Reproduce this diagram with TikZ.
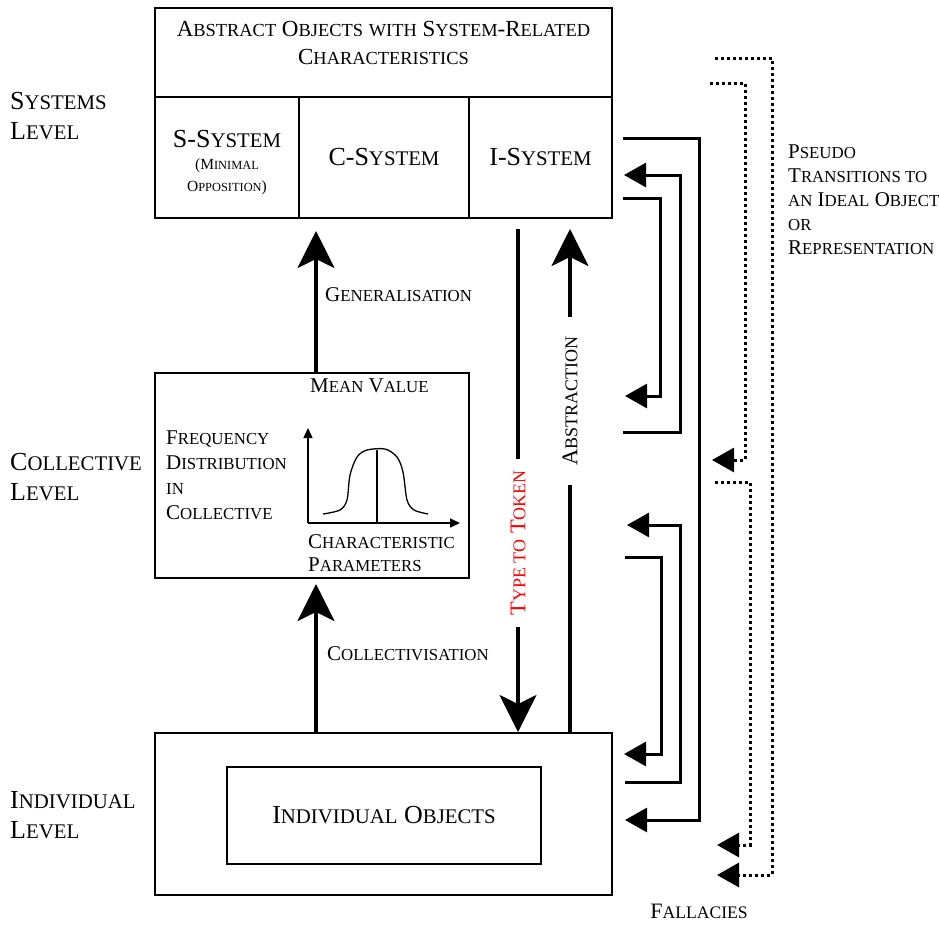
\documentclass[tikz,border=0pt]{standalone}
\usepackage{fontspec}
\setmainfont{Liberation Serif}
\usetikzlibrary{arrows.meta, positioning, calc}

% fake small capitals: the rest of a word at 80 per cent
\makeatletter
\newcommand\sm[1]{{\fontsize{\strip@pt\dimexpr0.8\dimexpr\f@size pt\relax\relax}{0}\selectfont#1}}
\makeatother

\begin{document}
\begin{tikzpicture}[x=1pt, y=-1pt,
    box/.style={draw, line width=2pt, inner sep=0pt},
    lbl/.style={font=\fontsize{21}{25}\selectfont, inner sep=0pt, align=left},
    biglbl/.style={font=\fontsize{26}{30}\selectfont, inner sep=0pt, align=left},
    rotlbl/.style={font=\fontsize{22.5}{26}\selectfont, rotate=90, fill=white, inner ysep=2pt},
    bigarr/.style={line width=3.3pt, -{Stealth[length=37pt, width=37pt, inset=9pt]}},
    fb/.style={line width=3pt, -{Triangle[length=22pt, width=24pt]}},
    dotarr/.style={line width=3pt, dash pattern=on 3pt off 3pt, -{Triangle[length=22pt, width=24pt]}},
    axis/.style={line width=1.5pt, -{Triangle[length=10pt, width=9pt]}}
  ]
  \useasboundingbox (0,0) rectangle (939,924);
  % Level names
  \node[biglbl, anchor=west] (lvS) at (10,116) {S\sm{YSTEMS}\\L\sm{EVEL}};
  \node[biglbl, anchor=west] (lvC) at (10,477) {C\sm{OLLECTIVE}\\L\sm{EVEL}};
  \node[biglbl, anchor=west] (lvI) at (10,815) {I\sm{NDIVIDUAL}\\L\sm{EVEL}};
  % Systems level
  \node[box, minimum width=457pt, minimum height=89pt] (sysT) at (383.5,52.5) {};
  \node[font=\fontsize{23}{28}\selectfont, align=center, inner sep=0pt] (title) at (383.5,43)
    {A\sm{BSTRACT} O\sm{BJECTS} \sm{WITH} S\sm{YSTEM}-R\sm{ELATED}\\C\sm{HARACTERISTICS}};
  \node[box, minimum width=144pt, minimum height=121pt] (sS) at (227,157.5) {};
  \node[box, minimum width=170pt, minimum height=121pt, font=\fontsize{26}{30}\selectfont] (sC) at (384,157.5) {C-S\sm{YSTEM}};
  \node[box, minimum width=143pt, minimum height=121pt, font=\fontsize{26}{30}\selectfont] (sI) at (540.5,157.5) {I-S\sm{YSTEM}};
  \node[font=\fontsize{15.5}{22}\selectfont, align=center, inner sep=0pt] (sStxt) at (227,163)
    {{\fontsize{26}{30}\selectfont S-S\sm{YSTEM}}\\(M\sm{INIMAL}\\O\sm{PPOSITION})};
  % Collective level
  \node[box, minimum width=314pt, minimum height=205pt] (coll) at (312,475.5) {};
  \node[lbl, anchor=west] (mean) at (310,386) {M\sm{EAN} V\sm{ALUE}};
  \node[lbl, anchor=west] (freq) at (166,475.5) {F\sm{REQUENCY}\\D\sm{ISTRIBUTION}\\\sm{IN}\\C\sm{OLLECTIVE}};
  \node[lbl, anchor=west, font=\fontsize{21}{23}\selectfont] (param) at (308,553.5) {C\sm{HARACTERISTIC}\\P\sm{ARAMETERS}};
  \coordinate (ax0) at (308,523);
  \coordinate (axY) at (308,428);
  \coordinate (axX) at (460,523);
  \draw[axis] (ax0) -- (axY);
  \draw[axis] (ax0) -- (axX);
  \draw[line width=1.3pt] plot[smooth, tension=0.5] coordinates {(323,514) (340,510) (347,500) (350,475)
    (357,457) (367,450) (385,449) (397,457) (403,472) (407,500) (414,510) (428,514)};
  \draw[line width=1.3pt] (377,450) -- (377,523);
  % Individual level
  \node[box, minimum width=457pt, minimum height=162pt] (indiv) at (383.5,814) {};
  \node[box, minimum width=314pt, minimum height=97pt, font=\fontsize{26}{30}\selectfont] (obj) at (384,815.5) {I\sm{NDIVIDUAL} O\sm{BJECTS}};
  % vertical transitions
  \coordinate (gx) at (316,0);
  \coordinate (tx) at (518,0);
  \coordinate (abx) at (570,0);
  \draw[bigarr, shorten >=12pt] (coll.north -| gx) -- (sC.south -| gx);
  \node[lbl, anchor=west] (gen) at (325,295) {G\sm{ENERALISATION}};
  \draw[bigarr, shorten >=5pt] (indiv.north -| gx) -- (coll.south -| gx);
  \node[lbl, anchor=west] (colv) at (327,654) {C\sm{OLLECTIVISATION}};
  \draw[bigarr, shorten <=10pt] (sI.south -| tx) --
    node[rotlbl, pos=0.631, text=red, inner xsep=11.5pt] (ttt) {T\sm{YPE TO} T\sm{OKEN}} (indiv.north -| tx);
  \draw[bigarr, shorten >=10pt] (indiv.north -| abx) --
    node[rotlbl, pos=0.645, inner xsep=19pt] (abs) {A\sm{BSTRACTION}} (sI.south -| abx);
  % fallacies
  \coordinate (fa1) at (623,138); \coordinate (fa2) at (625,820);
  \coordinate (fb1) at (623,432); \coordinate (fb2) at (624,175);
  \coordinate (fc1) at (623,198); \coordinate (fc2) at (625,396);
  \coordinate (fd1) at (625,782); \coordinate (fd2) at (627,525);
  \coordinate (fe1) at (625,557); \coordinate (fe2) at (624,754);
  \draw[fb] (fa1) -- ++(76,0) |- (fa2);
  \draw[fb] (fb1) -- ++(57,0) |- (fb2);
  \draw[fb] (fc1) -- ++(37,0) |- (fc2);
  \draw[fb] (fd1) -- ++(55,0) |- (fd2);
  \draw[fb] (fe1) -- ++(36,0) |- (fe2);
  \node[font=\fontsize{22}{26}\selectfont] (fall) at (699,911) {F\sm{ALLACIES}};
  % pseudo transitions
  \coordinate (pa1) at (715,58); \coordinate (pa2) at (717,875);
  \coordinate (pb1) at (710,83); \coordinate (pb2) at (712,460);
  \coordinate (pc1) at (715,482); \coordinate (pc2) at (717,845);
  \draw[dotarr] (pa1) -- ++(57,0) |- (pa2);
  \draw[dotarr] (pb1) -- ++(35,0) |- (pb2);
  \draw[dotarr] (pc1) -- ++(35,0) |- (pc2);
  \node[lbl, anchor=west, font=\fontsize{21}{24}\selectfont] (pseudo) at (788,200)
    {P\sm{SEUDO}\\T\sm{RANSITIONS TO}\\\sm{AN} I\sm{DEAL} O\sm{BJECT}\\\sm{OR}\\R\sm{EPRESENTATION}};
\end{tikzpicture}
\end{document}
